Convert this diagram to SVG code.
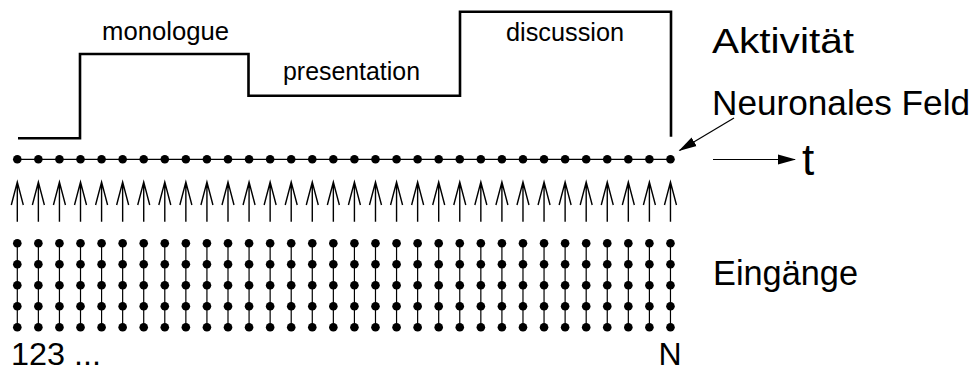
<svg xmlns="http://www.w3.org/2000/svg" xmlns:xlink="http://www.w3.org/1999/xlink" width="973" height="374" viewBox="0 0 973 374">
  <style>
    text { font-family: 'Liberation Sans', Arial, sans-serif; fill: #000; }
    .phase { font-size: 25px; }
    .label { font-size: 35px; }
    .thin { stroke: #000; stroke-width: 1.2; fill: none; }
    .step { stroke: #000; stroke-width: 2.6; fill: none; stroke-linejoin: miter; }
    .dot { fill: #000; }
    .arrow { stroke: #000; stroke-width: 1.4; fill: none; }
  </style>
  <defs>
    <!-- one neuron of the field -->
    <circle id="fdot" class="dot" cx="0" cy="159.3" r="4.3"/>
    <!-- input arrow pointing up into the field -->
    <path id="up" class="arrow" d="M0,221.7 V182 M-6,205 L0,182 L6,205"/>
    <!-- one input channel: 5 input units chained vertically -->
    <g id="col">
      <line class="thin" x1="0" y1="243.3" x2="0" y2="327.3"/>
      <circle class="dot" cx="0" cy="243.3" r="4.3"/>
      <circle class="dot" cx="0" cy="264.3" r="4.3"/>
      <circle class="dot" cx="0" cy="285.3" r="4.3"/>
      <circle class="dot" cx="0" cy="306.3" r="4.3"/>
      <circle class="dot" cx="0" cy="327.3" r="4.3"/>
    </g>
    <marker id="head" markerWidth="18" markerHeight="12" refX="17" refY="6" orient="auto" markerUnits="userSpaceOnUse">
      <path d="M0,1 L18,6 L0,11 Z" fill="#000"/>
    </marker>
  </defs>

  <!-- activity trace over time -->
  <g id="activity">
    <polyline class="step" points="18,138.3 80,138.3 80,54 248.5,54 248.5,95.7 460,95.7 460,11.7 671,11.7 671,136.7"/>
    <text class="phase" x="102" y="40" textLength="127" lengthAdjust="spacingAndGlyphs">monologue</text>
    <text class="phase" x="283" y="80" textLength="137" lengthAdjust="spacingAndGlyphs">presentation</text>
    <text class="phase" x="506" y="40.7" textLength="118" lengthAdjust="spacingAndGlyphs">discussion</text>
  </g>

  <!-- neural field: chain of neurons -->
  <g id="field">
    <line class="thin" x1="17.3" y1="159.3" x2="670.5" y2="159.3"/>
    <use xlink:href="#fdot" x="17.30"/><use xlink:href="#fdot" x="38.37"/><use xlink:href="#fdot" x="59.44"/><use xlink:href="#fdot" x="80.51"/>
    <use xlink:href="#fdot" x="101.58"/><use xlink:href="#fdot" x="122.65"/><use xlink:href="#fdot" x="143.72"/><use xlink:href="#fdot" x="164.79"/>
    <use xlink:href="#fdot" x="185.86"/><use xlink:href="#fdot" x="206.93"/><use xlink:href="#fdot" x="228.00"/><use xlink:href="#fdot" x="249.07"/>
    <use xlink:href="#fdot" x="270.14"/><use xlink:href="#fdot" x="291.21"/><use xlink:href="#fdot" x="312.28"/><use xlink:href="#fdot" x="333.35"/>
    <use xlink:href="#fdot" x="354.42"/><use xlink:href="#fdot" x="375.49"/><use xlink:href="#fdot" x="396.56"/><use xlink:href="#fdot" x="417.63"/>
    <use xlink:href="#fdot" x="438.70"/><use xlink:href="#fdot" x="459.77"/><use xlink:href="#fdot" x="480.84"/><use xlink:href="#fdot" x="501.91"/>
    <use xlink:href="#fdot" x="522.98"/><use xlink:href="#fdot" x="544.05"/><use xlink:href="#fdot" x="565.12"/><use xlink:href="#fdot" x="586.19"/>
    <use xlink:href="#fdot" x="607.26"/><use xlink:href="#fdot" x="628.33"/><use xlink:href="#fdot" x="649.40"/><use xlink:href="#fdot" x="670.47"/>
  </g>

  <!-- input channels -->
  <g id="inputs">
    <use xlink:href="#col" x="17.30"/><use xlink:href="#col" x="38.37"/><use xlink:href="#col" x="59.44"/><use xlink:href="#col" x="80.51"/>
    <use xlink:href="#col" x="101.58"/><use xlink:href="#col" x="122.65"/><use xlink:href="#col" x="143.72"/><use xlink:href="#col" x="164.79"/>
    <use xlink:href="#col" x="185.86"/><use xlink:href="#col" x="206.93"/><use xlink:href="#col" x="228.00"/><use xlink:href="#col" x="249.07"/>
    <use xlink:href="#col" x="270.14"/><use xlink:href="#col" x="291.21"/><use xlink:href="#col" x="312.28"/><use xlink:href="#col" x="333.35"/>
    <use xlink:href="#col" x="354.42"/><use xlink:href="#col" x="375.49"/><use xlink:href="#col" x="396.56"/><use xlink:href="#col" x="417.63"/>
    <use xlink:href="#col" x="438.70"/><use xlink:href="#col" x="459.77"/><use xlink:href="#col" x="480.84"/><use xlink:href="#col" x="501.91"/>
    <use xlink:href="#col" x="522.98"/><use xlink:href="#col" x="544.05"/><use xlink:href="#col" x="565.12"/><use xlink:href="#col" x="586.19"/>
    <use xlink:href="#col" x="607.26"/><use xlink:href="#col" x="628.33"/><use xlink:href="#col" x="649.40"/><use xlink:href="#col" x="670.47"/>
  </g>

  <!-- connectors: inputs feeding the field, pointer and time axis -->
  <g id="connectors">
    <use xlink:href="#up" x="17.30"/><use xlink:href="#up" x="38.37"/><use xlink:href="#up" x="59.44"/><use xlink:href="#up" x="80.51"/>
    <use xlink:href="#up" x="101.58"/><use xlink:href="#up" x="122.65"/><use xlink:href="#up" x="143.72"/><use xlink:href="#up" x="164.79"/>
    <use xlink:href="#up" x="185.86"/><use xlink:href="#up" x="206.93"/><use xlink:href="#up" x="228.00"/><use xlink:href="#up" x="249.07"/>
    <use xlink:href="#up" x="270.14"/><use xlink:href="#up" x="291.21"/><use xlink:href="#up" x="312.28"/><use xlink:href="#up" x="333.35"/>
    <use xlink:href="#up" x="354.42"/><use xlink:href="#up" x="375.49"/><use xlink:href="#up" x="396.56"/><use xlink:href="#up" x="417.63"/>
    <use xlink:href="#up" x="438.70"/><use xlink:href="#up" x="459.77"/><use xlink:href="#up" x="480.84"/><use xlink:href="#up" x="501.91"/>
    <use xlink:href="#up" x="522.98"/><use xlink:href="#up" x="544.05"/><use xlink:href="#up" x="565.12"/><use xlink:href="#up" x="586.19"/>
    <use xlink:href="#up" x="607.26"/><use xlink:href="#up" x="628.33"/><use xlink:href="#up" x="649.40"/><use xlink:href="#up" x="670.47"/>
    <line class="thin" x1="734" y1="118" x2="679.5" y2="150.5" marker-end="url(#head)"/>
    <line class="thin" x1="713" y1="159.5" x2="795" y2="159.5" marker-end="url(#head)"/>
  </g>

  <!-- side labels -->
  <g id="labels">
    <text class="label" x="712" y="53" textLength="142" lengthAdjust="spacingAndGlyphs">Aktivität</text>
    <text class="label" x="712" y="115" textLength="258" lengthAdjust="spacingAndGlyphs">Neuronales Feld</text>
    <text x="802" y="175" font-size="44">t</text>
    <text x="713" y="285" class="label" textLength="145" lengthAdjust="spacingAndGlyphs">Eingänge</text>
    <text x="11" y="365" font-size="32" textLength="90" lengthAdjust="spacingAndGlyphs">123 ...</text>
    <text x="670" y="365" font-size="32" text-anchor="middle">N</text>
  </g>
</svg>
